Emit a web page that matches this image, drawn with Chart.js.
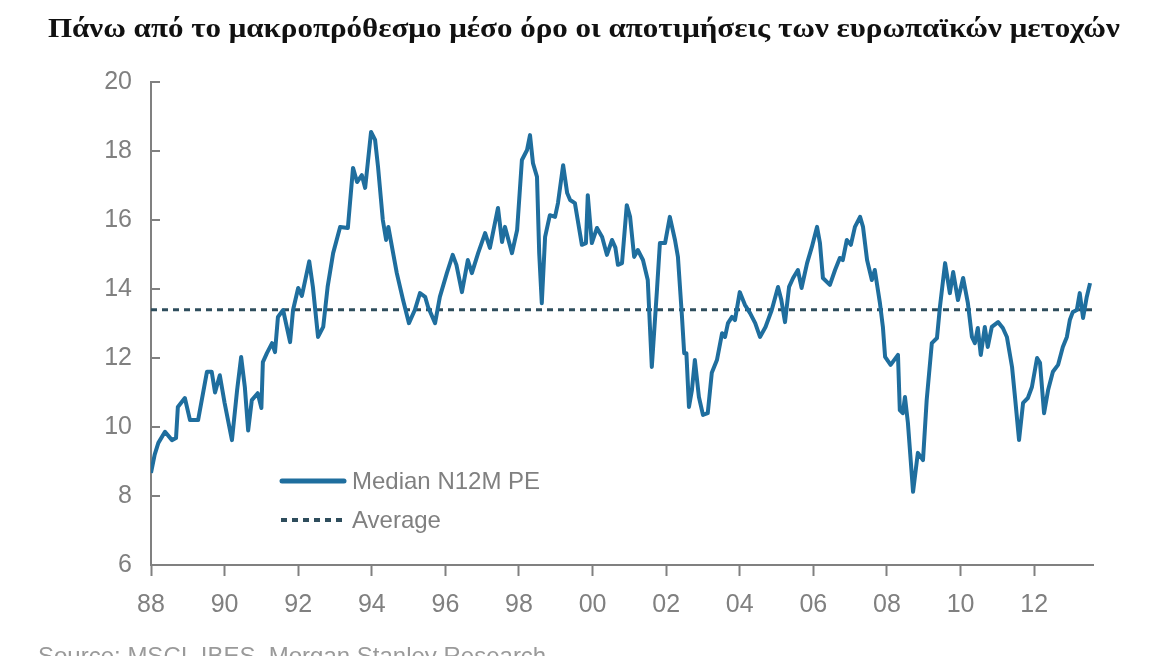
<!DOCTYPE html>
<html>
<head>
<meta charset="utf-8">
<script src="https://cdn.jsdelivr.net/npm/chart.js@4/dist/chart.umd.min.js"></script>
<style>
  body { margin: 0; background: #fff; width: 1168px; height: 656px; overflow: hidden; position: relative; }
  #title { position: absolute; left: 0; top: 12px; width: 1168px; text-align: center; white-space: nowrap;
    font: bold 28px 'Liberation Serif', serif; color: #111; }
  #title span { display: inline-block; transform-origin: center; }
  #source { position: absolute; left: 38px; top: 642px; font: 24px 'Liberation Sans', Arial, sans-serif; color: #9a9a9a; white-space: nowrap; }
  canvas { position: absolute; left: 0; top: 0; }
</style>
</head>
<body>
<canvas id="chart" width="1168" height="656"></canvas>
<div id="title"><span>Πάνω από το μακροπρόθεσμο μέσο όρο οι αποτιμήσεις των ευρωπαϊκών μετοχών</span></div>
<div id="source">Source: MSCI, IBES, Morgan Stanley Research</div>
<script>
// values (year, median forward PE)
const years = [
  1988.00, 1988.10, 1988.20, 1988.38, 1988.57, 1988.68, 1988.73, 1988.92, 1989.06, 1989.28,
  1989.52, 1989.65, 1989.74, 1989.87, 1990.00, 1990.20, 1990.34, 1990.45, 1990.55, 1990.64,
  1990.74, 1990.90, 1991.00, 1991.04, 1991.15, 1991.29, 1991.37, 1991.45, 1991.59, 1991.78,
  1991.86, 1992.00, 1992.10, 1992.30, 1992.40, 1992.54, 1992.68, 1992.80, 1992.95, 1993.14,
  1993.35, 1993.49, 1993.60, 1993.73, 1993.82, 1993.98, 1994.09, 1994.17, 1994.30, 1994.39,
  1994.45, 1994.58, 1994.68, 1994.85, 1995.01, 1995.17, 1995.31, 1995.45, 1995.53, 1995.72,
  1995.85, 1996.04, 1996.20, 1996.30, 1996.45, 1996.61, 1996.72, 1996.89, 1997.08, 1997.21,
  1997.43, 1997.54, 1997.62, 1997.81, 1997.95, 1998.08, 1998.22, 1998.30, 1998.38, 1998.49,
  1998.55, 1998.62, 1998.71, 1998.84, 1998.98, 1999.06, 1999.20, 1999.31, 1999.39, 1999.52,
  1999.71, 1999.82, 1999.87, 1999.98, 2000.12, 2000.26, 2000.39, 2000.53, 2000.62, 2000.69,
  2000.80, 2000.93, 2001.02, 2001.13, 2001.23, 2001.37, 2001.50, 2001.61, 2001.75, 2001.83,
  2001.97, 2002.10, 2002.24, 2002.32, 2002.43, 2002.49, 2002.55, 2002.62, 2002.70, 2002.78,
  2002.89, 2003.00, 2003.13, 2003.24, 2003.38, 2003.52, 2003.60, 2003.68, 2003.79, 2003.87,
  2004.00, 2004.14, 2004.28, 2004.42, 2004.55, 2004.70, 2004.87, 2005.04, 2005.13, 2005.23,
  2005.34, 2005.45, 2005.58, 2005.68, 2005.83, 2005.96, 2006.10, 2006.18, 2006.26, 2006.45,
  2006.59, 2006.72, 2006.80, 2006.91, 2007.02, 2007.13, 2007.27, 2007.35, 2007.46, 2007.59,
  2007.67, 2007.81, 2007.89, 2007.95, 2008.10, 2008.30, 2008.35, 2008.43, 2008.49, 2008.57,
  2008.71, 2008.84, 2008.98, 2009.08, 2009.22, 2009.36, 2009.44, 2009.58, 2009.71, 2009.80,
  2009.93, 2010.07, 2010.20, 2010.31, 2010.39, 2010.47, 2010.55, 2010.66, 2010.74, 2010.85,
  2011.02, 2011.15, 2011.26, 2011.40, 2011.48, 2011.59, 2011.70, 2011.83, 2011.94, 2012.08,
  2012.16, 2012.27, 2012.38, 2012.51, 2012.65, 2012.78, 2012.89, 2012.97, 2013.05, 2013.16,
  2013.24, 2013.33, 2013.43, 2013.52
]
const pe = [
  8.67, 9.20, 9.54, 9.86, 9.62, 9.68, 10.58, 10.84, 10.20, 10.20,
  11.60, 11.60, 11.00, 11.50, 10.70, 9.62, 11.07, 12.03, 11.16, 9.90,
  10.78, 10.98, 10.55, 11.88, 12.14, 12.43, 12.17, 13.19, 13.39, 12.46,
  13.39, 14.03, 13.80, 14.80, 14.06, 12.61, 12.90, 14.06, 15.04, 15.80,
  15.77, 17.51, 17.10, 17.30, 16.93, 18.55, 18.32, 17.54, 16.00, 15.42,
  15.80, 15.04, 14.46, 13.68, 13.01, 13.39, 13.88, 13.77, 13.48, 13.01,
  13.77, 14.46, 14.99, 14.70, 13.91, 14.84, 14.46, 15.04, 15.62, 15.19,
  16.35, 15.36, 15.80, 15.04, 15.71, 17.74, 18.03, 18.46, 17.65, 17.25,
  15.04, 13.59, 15.51, 16.14, 16.09, 16.49, 17.59, 16.78, 16.58, 16.49,
  15.28, 15.33, 16.72, 15.33, 15.77, 15.51, 14.99, 15.42, 15.20, 14.70,
  14.75, 16.43, 16.09, 14.93, 15.13, 14.84, 14.26, 11.74, 13.97, 15.33,
  15.33, 16.09, 15.42, 14.93, 13.19, 12.14, 12.14, 10.58, 11.07, 11.94,
  10.87, 10.35, 10.40, 11.57, 11.94, 12.72, 12.61, 13.01, 13.19, 13.10,
  13.91, 13.54, 13.30, 13.01, 12.61, 12.90, 13.39, 14.06, 13.68, 13.04,
  14.06, 14.32, 14.55, 14.03, 14.75, 15.22, 15.80, 15.33, 14.32, 14.12,
  14.55, 14.90, 14.84, 15.42, 15.28, 15.80, 16.09, 15.80, 14.84, 14.26,
  14.55, 13.59, 12.90, 12.03, 11.80, 12.09, 10.49, 10.40, 10.87, 10.12,
  8.12, 9.25, 9.04, 10.78, 12.43, 12.58, 13.48, 14.75, 13.88, 14.49,
  13.68, 14.32, 13.59, 12.61, 12.43, 12.87, 12.09, 12.90, 12.32, 12.90,
  13.04, 12.87, 12.61, 11.74, 10.87, 9.62, 10.70, 10.84, 11.16, 12.00,
  11.86, 10.40, 11.07, 11.60, 11.80, 12.32, 12.61, 13.10, 13.33, 13.39,
  13.88, 13.16, 13.77, 14.17
]
const averagePE = 13.4
const xRange = [1988, 2013.6]
const xTicks = [1988, 1990, 1992, 1994, 1996, 1998, 2000, 2002, 2004, 2006, 2008, 2010, 2012]
const yTicks = [6, 8, 10, 12, 14, 16, 18, 20]
const seriesNames = ['Median N12M PE', 'Average']

const blue = '#1f6e9e'
const dashColor = '#2e4d5c'
const grey = '#808080'
const labelFont = { family: "'Liberation Sans', Arial, sans-serif", size: 25 }

// stretch the title to the width it has in the picture
const titleSpan = document.querySelector('#title span')
titleSpan.style.transform = `scaleX(${1072 / titleSpan.getBoundingClientRect().width})`

// y ticks point inward, and the legend sits inside the plot
const extras = {
  id: 'extras',
  afterDraw(chart) {
    const ctx = chart.ctx
    const y = chart.scales.y
    ctx.save()
    ctx.strokeStyle = grey
    ctx.lineWidth = 2
    yTicks.forEach(v => {
      const py = Math.round(y.getPixelForValue(v))
      ctx.beginPath()
      ctx.moveTo(chart.chartArea.left, py)
      ctx.lineTo(chart.chartArea.left + 9, py)
      ctx.stroke()
    })

    ctx.lineCap = 'round'
    ctx.strokeStyle = blue
    ctx.lineWidth = 5
    ctx.beginPath()
    ctx.moveTo(282, 481)
    ctx.lineTo(344, 481)
    ctx.stroke()

    ctx.lineCap = 'butt'
    ctx.strokeStyle = dashColor
    ctx.lineWidth = 4
    ctx.setLineDash([6, 5])
    ctx.beginPath()
    ctx.moveTo(281, 520)
    ctx.lineTo(346, 520)
    ctx.stroke()
    ctx.setLineDash([])

    ctx.fillStyle = grey
    ctx.font = `24px ${labelFont.family}`
    ctx.textBaseline = 'middle'
    ctx.fillText(seriesNames[0], 352, 482)
    ctx.fillText(seriesNames[1], 352, 521)
    ctx.restore()
  }
}

new Chart(document.getElementById('chart'), {
  type: 'line',
  data: {
    datasets: [
      {
        label: seriesNames[0],
        data: years.map((x, i) => ({ x, y: pe[i] })),
        borderColor: blue,
        borderWidth: 4,
        pointRadius: 0,
        borderJoinStyle: 'round',
        tension: 0
      },
      {
        label: seriesNames[1],
        data: xRange.map(x => ({ x, y: averagePE })),
        borderColor: dashColor,
        borderWidth: 3,
        borderDash: [6, 5],
        pointRadius: 0
      }
    ]
  },
  options: {
    responsive: false,
    animation: false,
    devicePixelRatio: 1,
    layout: { padding: { left: 0, right: 75, top: 82, bottom: 0 } },
    plugins: { legend: { display: false }, tooltip: { enabled: false } },
    scales: {
      x: {
        type: 'linear',
        min: xRange[0],
        max: xRange[1],
        afterBuildTicks: s => { s.ticks = xTicks.map(value => ({ value })) },
        afterFit: s => { s.height = 91 },
        grid: { drawOnChartArea: false, drawTicks: true, tickLength: 11, tickColor: grey, tickWidth: 2 },
        border: { color: grey, width: 2 },
        ticks: {
          color: grey,
          font: labelFont,
          padding: 14,
          maxRotation: 0,
          autoSkip: false,
          callback: v => String(v % 100).padStart(2, '0')
        }
      },
      y: {
        min: 6,
        max: 20,
        afterBuildTicks: s => { s.ticks = yTicks.map(value => ({ value })) },
        afterFit: s => { s.width = 151 },
        grid: { drawOnChartArea: false, drawTicks: false },
        border: { color: grey, width: 2 },
        ticks: { color: grey, font: labelFont, padding: 19 }
      }
    }
  },
  plugins: [extras]
})
</script>
</body>
</html>
